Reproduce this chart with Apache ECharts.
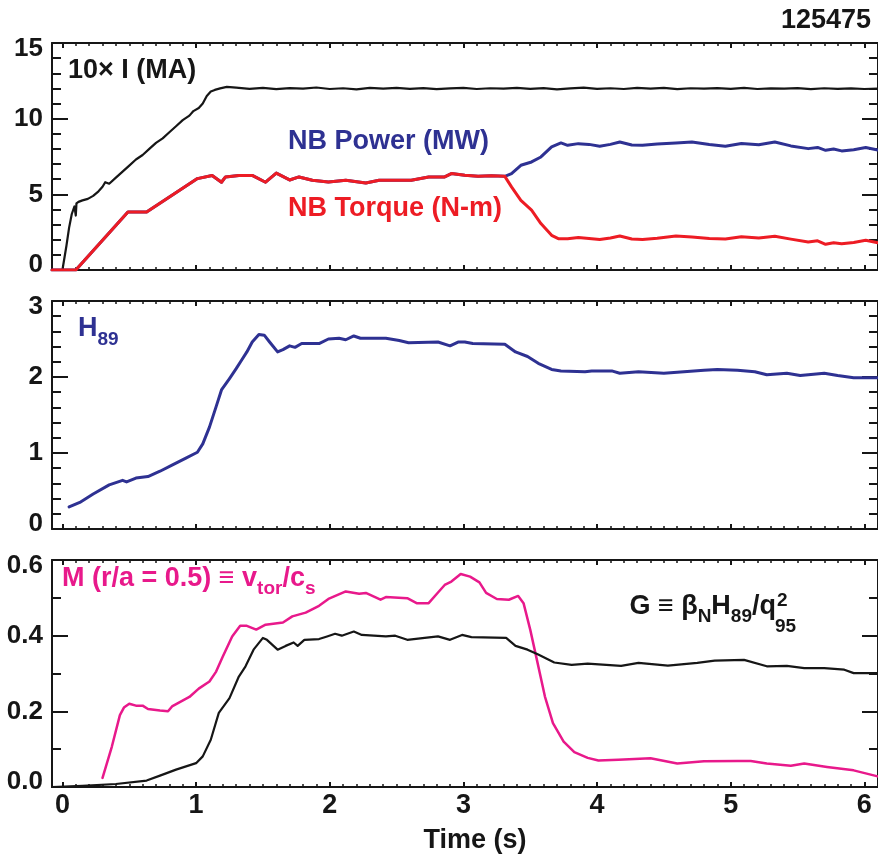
<!DOCTYPE html>
<html>
<head>
<meta charset="utf-8">
<script src="https://cdn.jsdelivr.net/npm/echarts@6/dist/echarts.min.js"></script>
<style>
  html, body { margin: 0; padding: 0; background: #fff; }
  #chart { width: 878px; height: 859px; }
</style>
</head>
<body>
<div id="chart"></div>
<script>
// Shot 125475 time traces (time in seconds)

// Plasma current x10 (MA)
const currentTime = [-0.078, 0.00, 0.03, 0.05, 0.07, 0.09, 0.10, 0.105, 0.12, 0.15, 0.19, 0.23, 0.27, 0.30, 0.32, 0.35,
  0.40, 0.45, 0.50, 0.55, 0.60, 0.65, 0.70, 0.75, 0.80, 0.85, 0.90, 0.95, 0.98, 1.02, 1.05, 1.08, 1.11, 1.14, 1.18, 1.23,
  1.3, 1.4, 1.5, 1.6, 1.7, 1.8, 1.9, 2.0, 2.1, 2.2, 2.3, 2.4, 2.5, 2.6, 2.7, 2.8, 2.9, 3.0, 3.1, 3.2, 3.3, 3.4, 3.5,
  3.6, 3.7, 3.8, 3.9, 4.0, 4.1, 4.2, 4.3, 4.4, 4.5, 4.6, 4.7, 4.8, 4.9, 5.0, 5.1, 5.2, 5.3, 5.4, 5.5, 5.6, 5.7, 5.8,
  5.9, 6.0, 6.1];
const currentValue = [0, 0, 1.6, 2.8, 3.7, 4.2, 3.6, 4.4, 4.5, 4.6, 4.7, 4.9, 5.2, 5.5, 5.8, 5.7,
  6.1, 6.5, 6.9, 7.3, 7.6, 8.0, 8.4, 8.7, 9.1, 9.5, 9.9, 10.2, 10.5, 10.7, 11.0, 11.5, 11.8, 11.9, 12.0, 12.1,
  12.05, 11.97, 12.03, 11.95, 12.02, 11.98, 12.06, 11.96, 12.01, 11.94, 12.04, 11.99, 12.03, 11.97, 12.02, 11.95,
  12.00, 12.04, 11.96, 12.01, 11.98, 12.03, 11.97, 12.02, 11.94, 12.00, 12.05, 11.97, 12.01, 11.96, 12.03, 11.99,
  12.04, 11.95, 12.01, 11.98, 12.02, 11.97, 12.03, 11.96, 12.00, 11.98, 12.02, 11.95, 12.01, 11.97, 12.00, 11.96, 11.99];

// Neutral beam: power and torque coincide until the beam mix changes
const beamTime = [-0.078, 0.10, 0.49, 0.63, 1.01, 1.12, 1.19, 1.22, 1.32, 1.42, 1.52, 1.60, 1.70, 1.77, 1.87, 1.99,
  2.12, 2.27, 2.37, 2.49, 2.61, 2.74, 2.86, 2.91, 3.01, 3.11, 3.21, 3.31];
const beamValue = [0, 0, 3.83, 3.83, 6.04, 6.25, 5.80, 6.15, 6.25, 6.25, 5.80, 6.40, 5.95, 6.15, 5.93, 5.82,
  5.93, 5.75, 5.93, 5.93, 5.93, 6.15, 6.15, 6.37, 6.26, 6.19, 6.22, 6.19];
const powerTailTime = [3.36, 3.43, 3.51, 3.58, 3.66, 3.73, 3.78, 3.86, 3.94, 4.02, 4.10, 4.17, 4.26, 4.34, 4.45, 4.59,
  4.71, 4.84, 4.96, 5.08, 5.21, 5.33, 5.45, 5.58, 5.65, 5.71, 5.77, 5.83, 5.92, 6.01, 6.10];
const powerTailValue = [6.37, 6.92, 7.14, 7.47, 8.13, 8.40, 8.24, 8.35, 8.30, 8.18, 8.30, 8.46, 8.26, 8.24, 8.32, 8.40,
  8.46, 8.30, 8.18, 8.36, 8.28, 8.46, 8.20, 8.02, 8.10, 7.91, 8.00, 7.87, 7.95, 8.09, 7.93];
const torqueTailTime = [3.36, 3.43, 3.51, 3.58, 3.66, 3.71, 3.78, 3.86, 3.94, 4.02, 4.10, 4.17, 4.26, 4.34, 4.45, 4.59,
  4.71, 4.84, 4.96, 5.08, 5.21, 5.33, 5.45, 5.58, 5.65, 5.71, 5.77, 5.83, 5.92, 6.01, 6.10];
const torqueTailValue = [5.49, 4.60, 3.95, 3.07, 2.29, 2.07, 2.07, 2.14, 2.08, 2.01, 2.12, 2.25, 2.05, 2.01, 2.10, 2.25,
  2.18, 2.08, 2.05, 2.20, 2.12, 2.23, 2.04, 1.85, 1.93, 1.70, 1.80, 1.74, 1.82, 1.96, 1.80];

// Confinement enhancement factor H89
const h89Time = [0.05, 0.13, 0.23, 0.35, 0.45, 0.48, 0.55, 0.64, 0.73, 0.82, 0.92, 1.01, 1.05, 1.10, 1.15, 1.19, 1.25,
  1.30, 1.34, 1.38, 1.42, 1.47, 1.51, 1.55, 1.61, 1.65, 1.70, 1.74, 1.79, 1.92, 1.99, 2.07, 2.12, 2.18, 2.23, 2.32,
  2.42, 2.52, 2.59, 2.81, 2.90, 2.96, 3.01, 3.07, 3.31, 3.39, 3.48, 3.56, 3.66, 3.73, 3.91, 3.96, 4.11, 4.17, 4.31,
  4.50, 4.65, 4.80, 4.90, 5.05, 5.18, 5.27, 5.42, 5.52, 5.70, 5.80, 5.92, 6.10];
const h89Value = [0.29, 0.35, 0.46, 0.58, 0.64, 0.62, 0.67, 0.69, 0.76, 0.84, 0.93, 1.01, 1.12, 1.34, 1.61, 1.83, 1.98,
  2.11, 2.22, 2.33, 2.46, 2.56, 2.55, 2.46, 2.33, 2.36, 2.41, 2.39, 2.44, 2.44, 2.50, 2.51, 2.49, 2.54, 2.51, 2.51,
  2.51, 2.48, 2.45, 2.46, 2.41, 2.46, 2.46, 2.44, 2.43, 2.33, 2.27, 2.18, 2.10, 2.08, 2.07, 2.08, 2.08, 2.05, 2.07,
  2.05, 2.07, 2.09, 2.10, 2.09, 2.07, 2.03, 2.05, 2.02, 2.05, 2.02, 1.99, 1.99];

// Toroidal Mach number at r/a = 0.5
const machTime = [0.30, 0.37, 0.43, 0.46, 0.50, 0.55, 0.60, 0.64, 0.73, 0.79, 0.82, 0.95, 1.02, 1.10, 1.15, 1.20, 1.27,
  1.33, 1.38, 1.45, 1.52, 1.65, 1.72, 1.82, 1.92, 1.99, 2.12, 2.22, 2.27, 2.38, 2.42, 2.58, 2.65, 2.74, 2.81, 2.86,
  2.91, 2.98, 3.05, 3.12, 3.17, 3.25, 3.34, 3.41, 3.45, 3.50, 3.55, 3.61, 3.67, 3.75, 3.83, 3.93, 4.01, 4.16, 4.40,
  4.60, 4.80, 5.05, 5.15, 5.27, 5.45, 5.55, 5.72, 5.92, 6.10];
const machValue = [0.024, 0.107, 0.190, 0.210, 0.220, 0.215, 0.215, 0.206, 0.202, 0.200, 0.213, 0.238, 0.260, 0.279,
  0.305, 0.345, 0.398, 0.426, 0.426, 0.416, 0.429, 0.435, 0.451, 0.461, 0.479, 0.497, 0.517, 0.511, 0.513, 0.495,
  0.502, 0.499, 0.486, 0.486, 0.514, 0.534, 0.543, 0.563, 0.556, 0.541, 0.513, 0.497, 0.495, 0.505, 0.486, 0.416,
  0.336, 0.239, 0.169, 0.120, 0.092, 0.077, 0.070, 0.072, 0.076, 0.062, 0.068, 0.069, 0.069, 0.062, 0.056, 0.062,
  0.053, 0.044, 0.028];

// G = beta_N H89 / q95^2
const gTime = [-0.078, 0.15, 0.40, 0.63, 0.73, 0.85, 1.00, 1.05, 1.11, 1.17, 1.25, 1.32, 1.37, 1.43, 1.50, 1.53, 1.61,
  1.67, 1.73, 1.76, 1.81, 1.92, 1.98, 2.04, 2.09, 2.18, 2.24, 2.42, 2.49, 2.58, 2.71, 2.81, 2.90, 2.99, 3.06, 3.32,
  3.39, 3.48, 3.56, 3.68, 3.81, 3.93, 4.18, 4.31, 4.53, 4.75, 4.88, 5.10, 5.27, 5.42, 5.55, 5.70, 5.85, 5.92, 6.10];
const gValue = [0, 0.003, 0.008, 0.017, 0.030, 0.046, 0.063, 0.081, 0.125, 0.196, 0.235, 0.292, 0.319, 0.363, 0.394,
  0.389, 0.363, 0.373, 0.382, 0.373, 0.389, 0.391, 0.398, 0.405, 0.400, 0.411, 0.402, 0.398, 0.400, 0.389, 0.394,
  0.398, 0.389, 0.402, 0.396, 0.394, 0.373, 0.363, 0.350, 0.329, 0.323, 0.326, 0.320, 0.328, 0.321, 0.328, 0.334,
  0.336, 0.319, 0.320, 0.314, 0.314, 0.310, 0.301, 0.301];

// Axis ticks
const timeTicks = [0, 1, 2, 3, 4, 5, 6];
const timeRange = [-0.078, 6.102];
const currentTicks = [0, 5, 10, 15];
const h89Ticks = [0, 1, 2, 3];
const machTicks = [0.0, 0.2, 0.4, 0.6];

const INK = '#161616';
const BLUE = '#2e3192';
const RED = '#ed1c24';
const PINK = '#e8198b';
const FONT = '"Liberation Sans", Arial, Helvetica, sans-serif';

const minorTimeTicks = [];
for (let k = 1; k <= 60; k++) { if (k % 10) minorTimeTicks.push(k / 10); }

const grids = [
  { left: 52, right: -3, top: 43, height: 227 },
  { left: 52, right: -3, top: 301, height: 228 },
  { left: 52, right: -3, top: 560, height: 227 }
];

function xAxesFor(gi) {
  const base = { gridIndex: gi, type: 'value', min: timeRange[0], max: timeRange[1], splitLine: { show: false } };
  const line = { show: true, onZero: false, lineStyle: { color: INK, width: 2 } };
  const noLine = { show: false, onZero: false };
  const major = { inside: true, length: 5, customValues: timeTicks, lineStyle: { color: INK, width: 2 } };
  const minor = { inside: true, length: 3, customValues: minorTimeTicks, lineStyle: { color: INK, width: 1.5 } };
  return [
    Object.assign({}, base, {
      position: 'bottom', axisLine: line, axisTick: major,
      axisLabel: gi === 2 ? { show: true, customValues: timeTicks, margin: 5, fontSize: 27, fontWeight: 'bold',
        fontFamily: FONT, color: INK } : { show: false }
    }),
    Object.assign({}, base, { position: 'bottom', axisLine: noLine, axisTick: minor, axisLabel: { show: false } }),
    Object.assign({}, base, { position: 'top', axisLine: line, axisTick: major, axisLabel: { show: false } }),
    Object.assign({}, base, { position: 'top', axisLine: noLine, axisTick: minor, axisLabel: { show: false } })
  ];
}

function yAxesFor(gi, ticks, minorSplit, digits) {
  const min = ticks[0], max = ticks[ticks.length - 1], step = ticks[1] - ticks[0];
  const labelFont = { fontSize: 26, fontWeight: 'bold', fontFamily: FONT, color: INK };
  const base = {
    gridIndex: gi, type: 'value', min: min, max: max, interval: step, splitLine: { show: false },
    axisLine: { show: true, onZero: false, lineStyle: { color: INK, width: 2 } },
    axisTick: { inside: true, length: 16, lineStyle: { color: INK, width: 2 } },
    minorTick: { show: true, splitNumber: minorSplit, length: 9, lineStyle: { color: INK, width: 2 } }
  };
  return [
    Object.assign({}, base, {
      position: 'left',
      axisLabel: Object.assign({
        margin: 9,
        formatter: function (v) {
          const txt = v.toFixed(digits);
          if (Math.abs(v - max) < 1e-9) return '{hi|' + txt + '}';
          if (Math.abs(v - min) < 1e-9) return '{lo|' + txt + '}';
          return txt;
        },
        rich: {
          hi: Object.assign({ padding: [12, 0, 0, 0] }, labelFont),
          lo: Object.assign({ padding: [0, 0, 10, 0] }, labelFont)
        }
      }, labelFont)
    }),
    Object.assign({}, base, { position: 'right', axisLabel: { show: false } })
  ];
}

function pairs(t, v) { return t.map(function (x, i) { return [x, v[i]]; }); }

function trace(name, gi, t, v, color, width) {
  return {
    name: name, type: 'line', xAxisIndex: gi * 4, yAxisIndex: gi * 2, data: pairs(t, v),
    showSymbol: false, symbol: 'none', smooth: false, silent: true, animation: false,
    lineStyle: { color: color, width: width, join: 'round', cap: 'round' }
  };
}

const mainRich = { fontSize: 27, fontWeight: 'bold', fontFamily: FONT, lineHeight: 30, verticalAlign: 'top' };
function richStyles(color, subDrop) {
  return {
    m: Object.assign({ fill: color }, mainRich),
    s: { fill: color, fontSize: 19, fontWeight: 'bold', fontFamily: FONT, lineHeight: 30, verticalAlign: 'top',
      padding: [subDrop, 0, 0, 0] }
  };
}
function label(text, x, y, color, size, align) {
  return {
    type: 'text', x: x, y: y, silent: true,
    style: { text: text, fill: color, fontSize: size, fontWeight: 'bold', fontFamily: FONT,
      align: align || 'left', verticalAlign: 'middle' }
  };
}
function richLabel(text, x, y, color, subDrop, align) {
  return {
    type: 'text', x: x, y: y, silent: true,
    style: { text: text, rich: richStyles(color, subDrop), fill: color, fontSize: 27, fontWeight: 'bold',
      fontFamily: FONT, align: align || 'left', verticalAlign: 'top' }
  };
}

const chart = echarts.init(document.getElementById('chart'), null, { renderer: 'canvas' });
chart.setOption({
  backgroundColor: '#ffffff',
  animation: false,
  grid: grids,
  xAxis: [].concat(xAxesFor(0), xAxesFor(1), xAxesFor(2)),
  yAxis: [].concat(yAxesFor(0, currentTicks, 5, 0), yAxesFor(1, h89Ticks, 5, 0), yAxesFor(2, machTicks, 2, 1)),
  series: [
    trace('10x I (MA)', 0, currentTime, currentValue, INK, 2.2),
    trace('NB Power (MW)', 0, beamTime.concat(powerTailTime), beamValue.concat(powerTailValue), BLUE, 3),
    trace('NB Torque (N-m)', 0, beamTime.concat(torqueTailTime), beamValue.concat(torqueTailValue), RED, 3),
    trace('H89', 1, h89Time, h89Value, BLUE, 3),
    trace('M', 2, machTime, machValue, PINK, 2.5),
    trace('G', 2, gTime, gValue, INK, 2.2)
  ],
  graphic: [
    label('125475', 871, 21, INK, 27, 'right'),
    label('10\u00d7 I (MA)', 68, 71, INK, 27),
    label('NB Power (MW)', 288, 142, BLUE, 27),
    label('NB Torque (N-m)', 288, 209, RED, 27),
    richLabel('{m|H}{s|89}', 78, 315, BLUE, 15),
    richLabel('{m|M (r/a = 0.5) \u2261 v}{s|tor}{m|/c}{s|s}', 62, 565, PINK, 14),
    richLabel('{m|G \u2261 \u03b2}{s|N}{m|H}{s|89}{m|/q}', 776, 593, INK, 14, 'right'),
    label('2', 777, 601, INK, 19),
    label('95', 775, 627, INK, 19),
    label('Time (s)', 475, 841, INK, 27, 'center')
  ]
});
</script>
</body>
</html>
